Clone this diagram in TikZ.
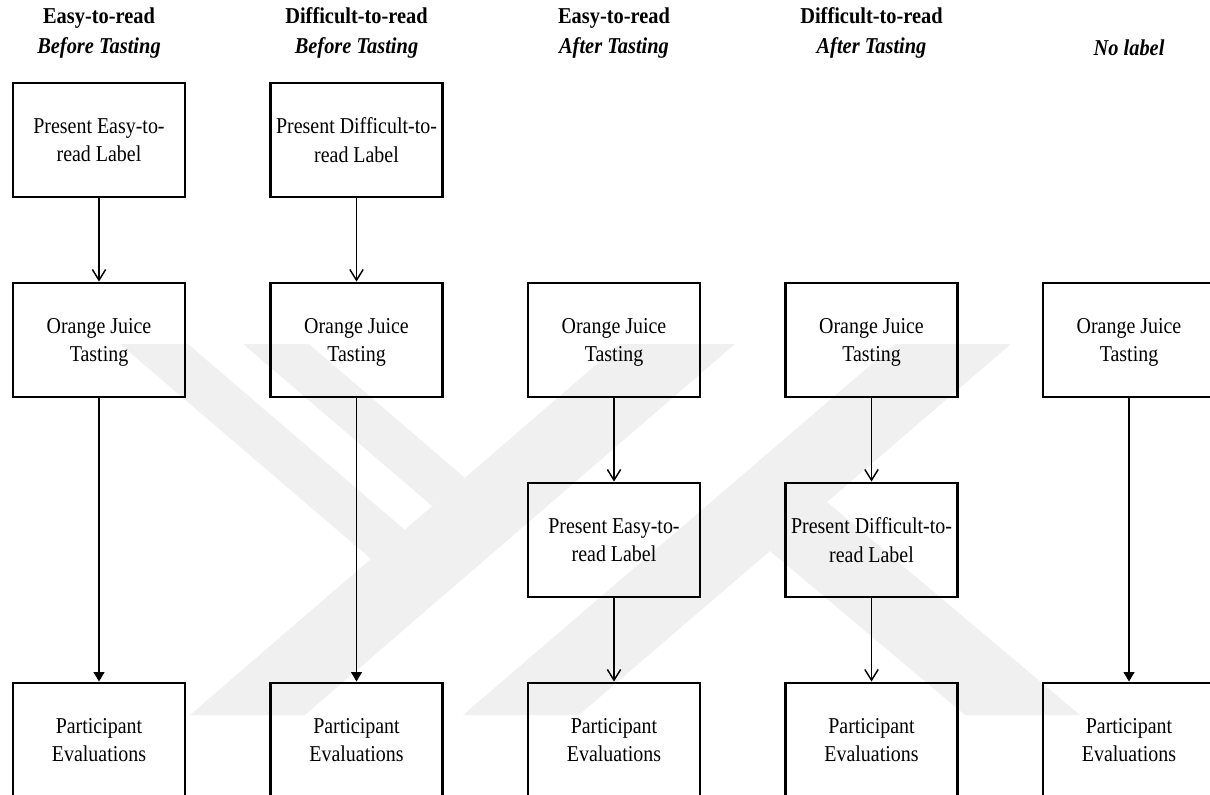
\documentclass[tikz,border=0pt]{standalone}
\usepackage{fontspec}
\setmainfont{Liberation Serif}
\newfontfamily\boxfont{Liberation Serif}[FakeStretch=0.88]
\newfontfamily\headfont{Liberation Serif}[FakeStretch=0.9]
\usetikzlibrary{arrows.meta}

\begin{document}
\begin{tikzpicture}[x=0.75pt, y=-0.75pt, font=\boxfont\fontsize{17}{21.5}\selectfont]
      \tikzset{
	  stepbox/.style={rectangle, draw=black, line width=2.2pt, minimum width=129pt, minimum height=85.5pt, inner sep=2pt, text depth=0pt, align=center, text=black},
	  heading/.style={align=center, font=\headfont\fontsize{17}{22.5}\selectfont\bfseries},
	  openarrow/.style={-{Straight Barb[length=8pt, width=10pt]}, line width=1.1pt},
	  fillarrow/.style={-{Triangle[length=7pt, width=8pt]}, line width=1.1pt},
	  wmark/.style={fill=black!6, draw=none}
      }

      \useasboundingbox (0,0) rectangle (1210,794);
      \clip (0,0) rectangle (1210,794);

      % watermark
      \fill[wmark] (620,344) -- (735,344) -- (305,715) -- (190,715) -- cycle;
      \fill[wmark] (895,344) -- (1011,344) -- (579,715) -- (463,715) -- cycle;
      \fill[wmark] (120,344) -- (188,344) -- (405,530) -- (371,559) -- cycle;
      \fill[wmark] (243,344) -- (309,344) -- (465,478) -- (432,506) -- cycle;
      \fill[wmark] (827,502) -- (1080,715) -- (965,715) -- (770,551) -- cycle;

      \node[heading] (headA) at (99,33) {Easy-to-read\\\textit{Before Tasting}};
      \node[heading] (headB) at (356.5,33) {Difficult-to-read\\\textit{Before Tasting}};
      \node[heading] (headC) at (614,33) {Easy-to-read\\\textit{After Tasting}};
      \node[heading] (headD) at (871.5,33) {Difficult-to-read\\\textit{After Tasting}};
      \node[heading] (headE) at (1129,48) {\textit{No label}};

      \node[stepbox] (labelA) at (99,140) {Present Easy-to-\\read Label};
      \node[stepbox] (labelB) at (356.5,140) {Present Difficult-to-\\read Label};

      \node[stepbox] (juiceA) at (99,340) {Orange Juice\\Tasting};
      \node[stepbox] (juiceB) at (356.5,340) {Orange Juice\\Tasting};
      \node[stepbox] (juiceC) at (614,340) {Orange Juice\\Tasting};
      \node[stepbox] (juiceD) at (871.5,340) {Orange Juice\\Tasting};
      \node[stepbox] (juiceE) at (1129,340) {Orange Juice\\Tasting};

      \node[stepbox] (labelC) at (614,540) {Present Easy-to-\\read Label};
      \node[stepbox] (labelD) at (871.5,540) {Present Difficult-to-\\read Label};

      \node[stepbox] (evalA) at (99,740) {Participant\\Evaluations};
      \node[stepbox] (evalB) at (356.5,740) {Participant\\Evaluations};
      \node[stepbox] (evalC) at (614,740) {Participant\\Evaluations};
      \node[stepbox] (evalD) at (871.5,740) {Participant\\Evaluations};
      \node[stepbox] (evalE) at (1129,740) {Participant\\Evaluations};

      \draw[openarrow] (labelA) -- (juiceA);
      \draw[openarrow] (labelB) -- (juiceB);
      \draw[fillarrow] (juiceA) -- (evalA);
      \draw[fillarrow] (juiceB) -- (evalB);
      \draw[openarrow] (juiceC) -- (labelC);
      \draw[openarrow] (juiceD) -- (labelD);
      \draw[openarrow] (labelC) -- (evalC);
      \draw[openarrow] (labelD) -- (evalD);
      \draw[fillarrow] (juiceE) -- (evalE);
\end{tikzpicture}
\end{document}
